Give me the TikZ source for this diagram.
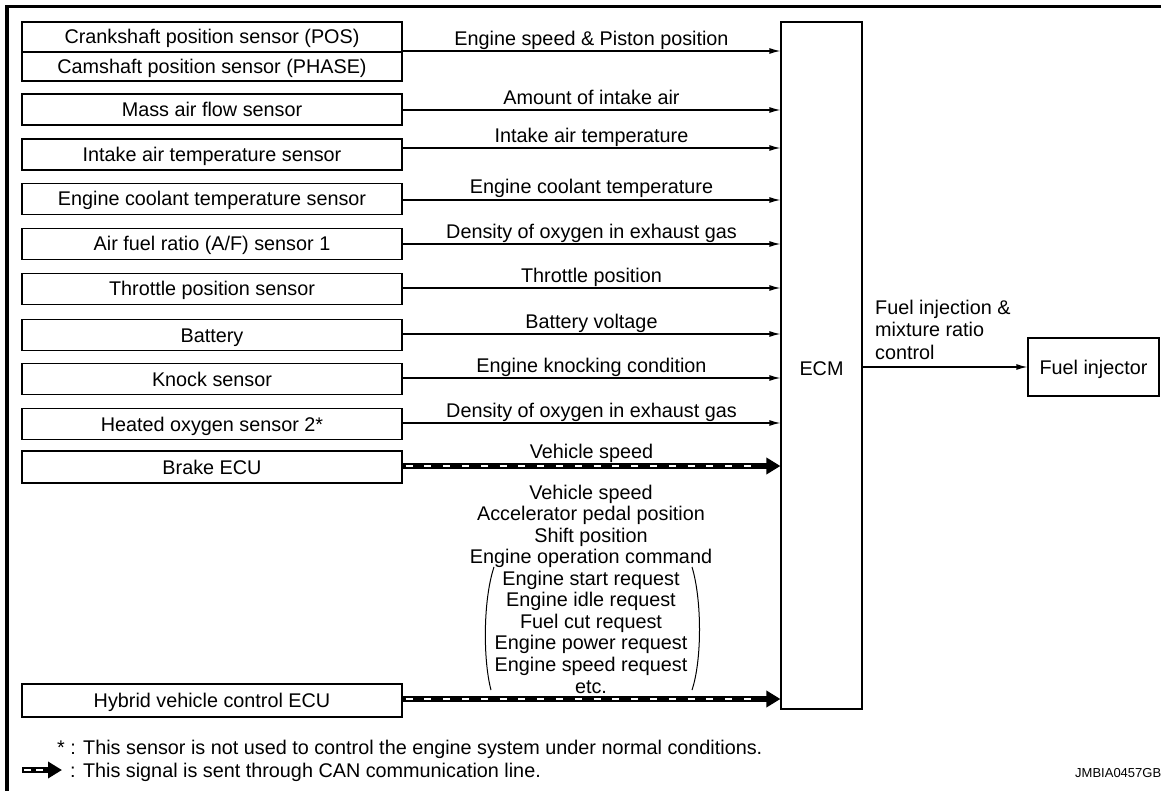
\documentclass[tikz,border=0pt]{standalone}
\usepackage{fontspec}
\setmainfont{Liberation Sans}
\usetikzlibrary{arrows.meta,calc}
\begin{document}
\begin{tikzpicture}[x=1pt,y=-1pt,
  font=\fontsize{19.8}{23}\selectfont,
  txt/.style={inner sep=0pt, text height=14pt, text depth=0pt},
  sbox/.style={draw, line width=1.2pt, minimum width=380pt, minimum height=31pt, inner sep=0pt, text height=14pt, text depth=0pt},
  sig/.style={line width=1.2pt, -{Latex[length=11pt,width=6pt]}},
  lbl/.style={anchor=base, inner sep=0pt},
  canline/.style={line width=6.5pt, -{Triangle[length=14pt,width=16pt]}},
  candash/.style={white, line width=2.8pt, dash pattern=on 7pt off 11.8pt},
  frame/.style={line width=3.8pt}
]
\useasboundingbox (0,0) rectangle (1161,791);
% frame
\draw[frame] (7,791) -- (7,6.5) -- (1161,6.5);

% sensor boxes
\node[draw, line width=1.2pt, minimum width=380pt, minimum height=59pt, inner sep=0pt] (pos) at (212,51.5) {};
\draw[line width=1.2pt] (pos.west |- 0,52) -- (pos.east |- 0,52);
\node[txt] (crank) at (212,37) {Crankshaft position sensor (POS)};
\node[txt] (cam) at (212,66.5) {Camshaft position sensor (PHASE)};
\node[sbox] (maf) at (212,109.5) {Mass air flow sensor};
\node[sbox] (iat) at (212,154.5) {Intake air temperature sensor};
\node[sbox] (ect) at (212,199) {Engine coolant temperature sensor};
\node[sbox] (af) at (212,244) {Air fuel ratio (A/F) sensor 1};
\node[sbox] (tps) at (212,289) {Throttle position sensor};
\node[sbox] (bat) at (212,335) {Battery};
\node[sbox] (knk) at (212,379) {Knock sensor};
\node[sbox] (ho2) at (212,424) {Heated oxygen sensor 2*};
\node[sbox, minimum height=32pt] (brk) at (212,467) {Brake ECU};
\node[sbox, minimum height=33pt] (hv) at (212,700.5) {Hybrid vehicle control ECU};

% ECM and injector
\node[draw, line width=1.2pt, minimum width=81pt, minimum height=687pt, inner sep=0pt] (ecm) at (821.5,365.5) {};
\node[txt] (ecmtxt) at (821.5,368.5) {ECM};
\node[draw, line width=1.2pt, minimum width=131pt, minimum height=58pt, inner sep=0pt, text height=14pt, text depth=0pt] (inj) at (1093.5,367) {Fuel injector};

% signal arrows
\draw[sig] (pos.east |- 0,51) -- (ecm.west |- 0,51);
\node[lbl] (l1) at (591.5,45.5) {Engine speed \& Piston position};
\draw[sig] (maf.east |- 0,110) -- (ecm.west |- 0,110);
\node[lbl] (l2) at (591.5,104.5) {Amount of intake air};
\draw[sig] (iat.east |- 0,148) -- (ecm.west |- 0,148);
\node[lbl] (l3) at (591.5,142.5) {Intake air temperature};
\draw[sig] (ect.east |- 0,200) -- (ecm.west |- 0,200);
\node[lbl] (l4) at (591.5,194) {Engine coolant temperature};
\draw[sig] (af.east |- 0,244) -- (ecm.west |- 0,244);
\node[lbl] (l5) at (591.5,239) {Density of oxygen in exhaust gas};
\draw[sig] (tps.east |- 0,288) -- (ecm.west |- 0,288);
\node[lbl] (l6) at (591.5,282.5) {Throttle position};
\draw[sig] (bat.east |- 0,334) -- (ecm.west |- 0,334);
\node[lbl] (l7) at (591.5,328.5) {Battery voltage};
\draw[sig] (knk.east |- 0,378) -- (ecm.west |- 0,378);
\node[lbl] (l8) at (591.5,372.5) {Engine knocking condition};
\draw[sig] (ho2.east |- 0,423) -- (ecm.west |- 0,423);
\node[lbl] (l9) at (591.5,417.5) {Density of oxygen in exhaust gas};

% CAN arrows
\draw[canline] (brk.east |- 0,466) -- (ecm.west |- 0,466);
\draw[candash] ($(brk.east |- 0,466)+(3,0)$) -- ($(ecm.west |- 0,466)+(-22,0)$);
\node[lbl] (l10) at (591.5,458.5) {Vehicle speed};
\draw[canline] (hv.east |- 0,699) -- (ecm.west |- 0,699);
\draw[candash] ($(hv.east |- 0,699)+(3,0)$) -- ($(ecm.west |- 0,699)+(-22,0)$);

\node[anchor=north, inner sep=0pt, align=center, font=\fontsize{19.8}{21.56}\selectfont] (hvlist) at (591,484.5)
 {Vehicle speed\\Accelerator pedal position\\Shift position\\Engine operation command\\Engine start request\\Engine idle request\\Fuel cut request\\Engine power request\\Engine speed request\\etc.};
\draw[line width=1pt] (494,567) .. controls (483,600) and (483,660) .. (491,690);
\draw[line width=1pt] (692,567) .. controls (702,600) and (702,660) .. (692,690);

% output
\draw[sig] (ecm.east |- inj.west) -- (inj.west);
\node[anchor=north west, inner sep=0pt, align=left, font=\fontsize{19.8}{22.5}\selectfont] (outlbl) at (875,299.5)
 {Fuel injection \&\\mixture ratio\\control};

% legend
\node[anchor=base west, inner sep=0pt] (note1) at (57,754) {* : This sensor is not used to control the engine system under normal conditions.};
\coordinate (lgA) at (22,770);
\coordinate (lgB) at (62,770);
\draw[canline] (lgA) -- (lgB);
\draw[candash, dash pattern=on 7pt off 5pt] ($(lgA)+(2,0)$) -- ($(lgB)+(-15,0)$);
\node[anchor=base west, inner sep=0pt] (note2) at (70,777) {: This signal is sent through CAN communication line.};
\node[anchor=base west, inner sep=0pt, font=\fontsize{13}{15}\selectfont] (code) at (1075,777) {JMBIA0457GB};
\end{tikzpicture}
\end{document}
